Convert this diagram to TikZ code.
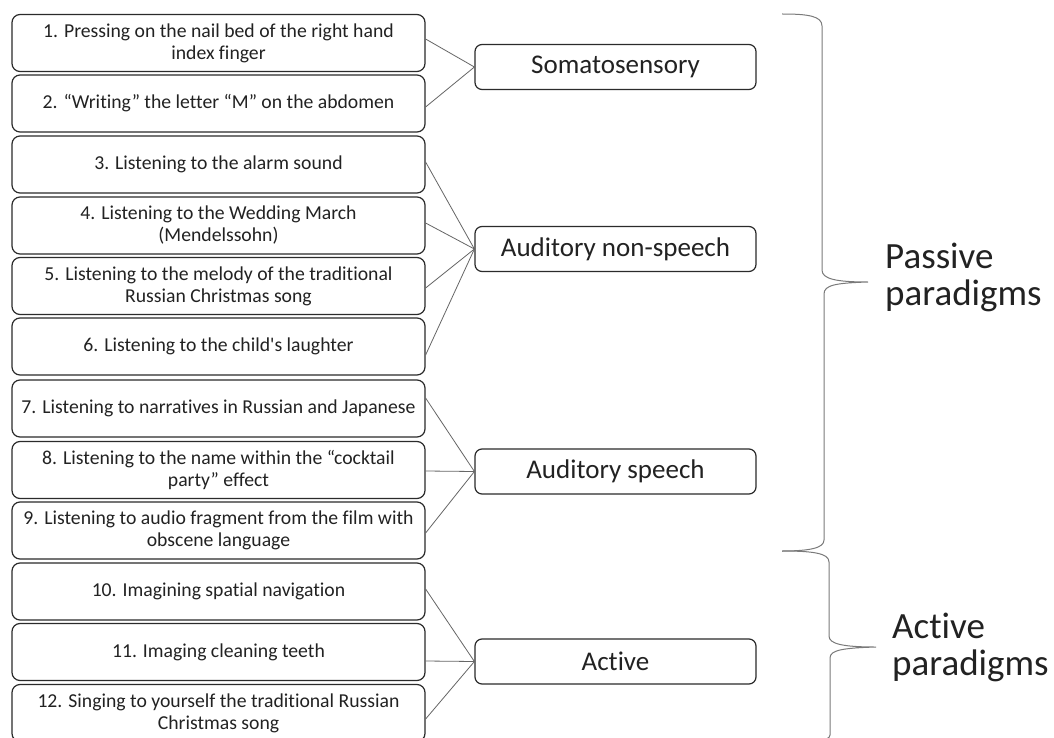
\documentclass[tikz,border=0pt]{standalone}
\usepackage{fontspec}
\newfontfamily\calib{Carlito}[Ligatures=NoCommon]
\definecolor{boxc}{HTML}{2B2B2B}
\definecolor{txt}{HTML}{222222}
\definecolor{linec}{HTML}{666666}
\definecolor{bracec}{HTML}{7A7A7A}
\begin{document}
\begin{tikzpicture}[x=1pt,y=-1pt,
  item/.style={draw=boxc, line width=1.2pt, rounded corners=8pt, minimum width=413pt, minimum height=57pt, align=center, font=\calib\fontsize{19.7}{22}\selectfont, text=txt, inner sep=0pt},
  cat/.style={draw=boxc, line width=1.2pt, rounded corners=7pt, minimum width=281pt, minimum height=45pt, font=\calib\fontsize{27}{32}\selectfont, text=txt, inner sep=0pt},
  link/.style={draw=linec, line width=0.8pt},
  brace/.style={draw=bracec, line width=1pt},
  grp/.style={font=\calib\fontsize{37}{37}\selectfont, align=left, anchor=north west, text=txt, inner sep=0pt}]
\useasboundingbox (0,0) rectangle (1054,738);
\fill[white] (0,0) rectangle (1054,738);
\clip (0,0) rectangle (1054,738);

% left items
\node[item] (b1) at (218.5,43) {1. Pressing on the nail bed of the right hand\\index finger};
\node[item] (b2) at (218.5,103.5) {2. “Writing” the letter “M” on the abdomen};
\node[item] (b3) at (218.5,164.5) {3. Listening to the alarm sound};
\node[item] (b4) at (218.5,225.5) {4. Listening to the Wedding March\\(Mendelssohn)};
\node[item] (b5) at (218.5,286) {5. Listening to the melody of the traditional\\Russian Christmas song};
\node[item] (b6) at (218.5,346.5) {6. Listening to the child's laughter};
\node[item] (b7) at (218.5,408.5) {7. Listening to narratives in Russian and Japanese};
\node[item] (b8) at (218.5,470) {8. Listening to the name within the “cocktail\\party” effect};
\node[item] (b9) at (218.5,530.5) {9. Listening to audio fragment from the film with\\obscene language};
\node[item] (b10) at (218.5,591.5) {10. Imagining spatial navigation};
\node[item] (b11) at (218.5,652) {11. Imaging cleaning teeth};
\node[item] (b12) at (218.5,713) {12. Singing to yourself the traditional Russian\\Christmas song};

% categories
\node[cat] (c1) at (615.5,67) {Somatosensory};
\node[cat] (c2) at (615.5,249) {Auditory non-speech};
\node[cat] (c3) at (615.5,471.5) {Auditory speech};
\node[cat] (c4) at (615.5,661.5) {Active};

% connectors
\draw[link] ([yshift=4pt]b1.east) -- (c1.west);
\draw[link] ([yshift=-3.5pt]b2.east) -- (c1.west);
\draw[link] ([yshift=2.5pt]b3.east) -- (c2.west);
\draw[link] ([yshift=2.5pt]b4.east) -- (c2.west);
\draw[link] ([yshift=-2pt]b5.east) -- (c2.west);
\draw[link] ([yshift=-8.5pt]b6.east) -- (c2.west);
\draw[link] ([yshift=10.5pt]b7.east) -- (c3.west);
\draw[link] ([yshift=-1pt]b8.east) -- (c3.west);
\draw[link] ([yshift=-2.5pt]b9.east) -- (c3.west);
\draw[link] ([yshift=2.5pt]b10.east) -- (c4.west);
\draw[link] ([yshift=-9pt]b11.east) -- (c4.west);
\draw[link] ([yshift=-6pt]b12.east) -- (c4.west);

% braces
\draw[brace] (782,14) .. controls (808,14) and (822,16) .. (822,26) -- (822,270)
  .. controls (822,279) and (836,282) .. (868,282)
  .. controls (836,283) and (824,285) .. (824,294) -- (824,540)
  .. controls (824,548) and (810,551) .. (782,551);
\draw[brace] (782,551) .. controls (812,551) and (829,553) .. (829,562) -- (829,636)
  .. controls (829,644) and (843,647) .. (876,647)
  .. controls (843,648) and (830,650) .. (830,658) -- (830,735)
  .. controls (830,741) and (812,744) .. (782,744);

% group labels
\node[grp] (pas) at (885,243) {Passive\\paradigms};
\node[grp] (act) at (892,613) {Active\\paradigms};
\end{tikzpicture}
\end{document}
